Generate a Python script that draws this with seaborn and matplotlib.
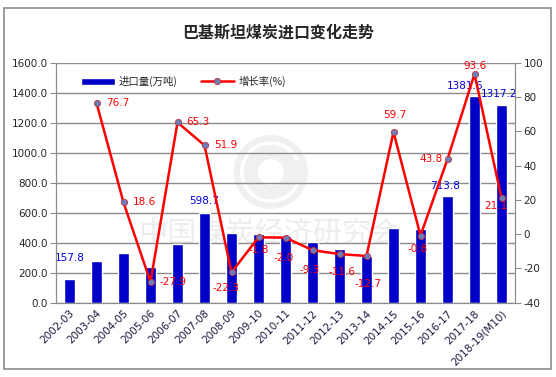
import numpy as np
import pandas as pd
import matplotlib
matplotlib.use('Agg')
import matplotlib.pyplot as plt
import seaborn as sns
from matplotlib.patches import Rectangle, Ellipse, Arc

years = ['2002-03', '2003-04', '2004-05', '2005-06', '2006-07', '2007-08', '2008-09',
         '2009-10', '2010-11', '2011-12', '2012-13', '2013-14', '2014-15', '2015-16',
         '2016-17', '2017-18', '2018-19(M10)']
imports = [157.8, 278, 332, 240, 391, 598.7, 466, 458, 444, 407, 358, 311, 500, 491,
           713.8, 1381.6, 1317.2]
growth = [np.nan, 76.7, 18.6, -27.9, 65.3, 51.9, -22.3, -1.8, -2.0, -9.3, -11.6, -12.7,
          59.7, -0.8, 43.8, 93.6, 21.1]

# which bars get a value label, and where the growth labels sit (points offset)
bar_labels = {0: (0, 15), 5: (0, 9), 14: (-2, 7), 15: (-7, 7), 16: (-2, 8)}
line_offsets = [None, (15, 0), (15, 0), (16, 0), (15, 0), (15, 0), (-4, -11), (0, -9),
                (-1, -15), (-2, -14), (2, -13), (1, -20), (1, 12), (-2, -10), (-12, 0),
                (0, 6), (-4, -6)]

df = pd.DataFrame({'year': years, 'imports': imports, 'growth': growth})

sns.set_style('white')
plt.rcParams['font.family'] = ['DejaVu Sans', 'Noto Sans CJK SC']
cjk = ['Noto Sans CJK SC', 'DejaVu Sans']

fig = plt.figure(figsize=(5.56, 3.77), dpi=100)
fig.patches.append(Rectangle((4 / 556, 1 - 369 / 377), 547 / 556, 361 / 377,
                             transform=fig.transFigure, fill=False,
                             edgecolor='#8c8c8c', linewidth=1.2))
ax = fig.add_axes([56 / 556, 1 - 302.7 / 377, 459 / 556, 239.7 / 377])

# faint watermark logo + text
cx, cy = 0.468, 0.545
ax.add_patch(Ellipse((cx, cy), 74 / 459, 74 / 239.7, transform=ax.transAxes,
                     facecolor='#f0f0f0', edgecolor='none', zorder=0))
ax.add_patch(Arc((cx, cy), 58 / 459, 58 / 239.7, theta1=40, theta2=320,
                 transform=ax.transAxes, edgecolor='white', linewidth=2.5, zorder=0))
ax.add_patch(Ellipse((cx, cy), 26 / 459, 26 / 239.7, transform=ax.transAxes,
                     facecolor='white', edgecolor='none', zorder=0))
ax.text(0.465, 0.285, '中国煤炭经济研究会', transform=ax.transAxes, ha='center',
        va='center', fontsize=21, color='#ededed', family=cjk, zorder=0)

sns.barplot(data=df, x='year', y='imports', color='#0000c8', saturation=1,
            width=0.42, ax=ax, zorder=3, label='进口量(万吨)')
if ax.get_legend():
    ax.get_legend().remove()
ax.set_ylim(0, 1600)
ax.set_yticks(np.arange(0, 1601, 200))
ax.set_yticklabels([f'{v:.1f}' for v in np.arange(0, 1601, 200)], fontsize=7.5)
ax.yaxis.grid(True, color='#8c8c8c', linewidth=1)
ax.set_axisbelow(True)
ax.set_xlabel('')
ax.set_ylabel('')
ax.set_xlim(-0.5, len(years) - 0.5)
ax.set_xticks(np.arange(len(years) + 1) - 0.5, minor=True)
ax.tick_params(axis='x', which='major', length=0, pad=4)
ax.tick_params(axis='x', which='minor', length=4, color='#8c8c8c', direction='out')
ax.tick_params(axis='y', length=4, color='#8c8c8c', direction='out', left=True, pad=2)
ax.set_xticks(range(len(years)))
ax.set_xticklabels(years, rotation=45, ha='right', rotation_mode='anchor', fontsize=7.5,
                   color='#1a1a40')
for s in ['left', 'bottom', 'right']:
    ax.spines[s].set_color('#8c8c8c')
ax.spines['top'].set_visible(False)

for i, (dx, dy) in bar_labels.items():
    ax.annotate(f'{imports[i]:.1f}', (i, imports[i]), xytext=(dx, dy),
                textcoords='offset points', ha='center', va='center', fontsize=7.5,
                color='#0000e0', zorder=6)

ax2 = ax.twinx()
sns.lineplot(data=df, x=np.arange(len(years)), y='growth', color='#ff0000', linewidth=1.8,
             marker='o', markersize=4.5, markerfacecolor='#6a7fb8',
             markeredgecolor='#c03040', markeredgewidth=0.6, ax=ax2, zorder=5,
             label='增长率(%)')
ax2.set_ylim(-40, 100)
ax2.set_yticks(np.arange(-40, 101, 20))
ax2.set_yticklabels([str(v) for v in np.arange(-40, 101, 20)], fontsize=7.5)
ax2.tick_params(axis='y', length=4, color='#8c8c8c', direction='out', right=True, pad=2)
ax2.set_ylabel('')
ax2.set_xlim(-0.5, len(years) - 0.5)
for s in ['left', 'bottom', 'right']:
    ax2.spines[s].set_color('#8c8c8c')
ax2.spines['top'].set_visible(False)

for i, off in enumerate(line_offsets):
    if off is None:
        continue
    ax2.annotate(f'{growth[i]:.1f}', (i, growth[i]), xytext=off,
                 textcoords='offset points', ha='center', va='center', fontsize=7.5,
                 color='#ff0000', zorder=6)

h1, l1 = ax.get_legend_handles_labels()
h2, l2 = ax2.get_legend_handles_labels()
if ax2.get_legend():
    ax2.get_legend().remove()
ax2.legend(h1[:1] + h2[:1], l1[:1] + l2[:1], loc='upper left',
           bbox_to_anchor=(0.035, 0.985), ncol=2, frameon=False,
           prop={'family': cjk, 'size': 7.5}, handlelength=3.2,
           columnspacing=2.2, handletextpad=0.4)

fig.text(0.5, 1 - 33 / 377, '巴基斯坦煤炭进口变化走势', ha='center', va='center',
         fontsize=11.5, fontweight='bold', family=cjk)

fig.savefig('out.png', dpi=100)
